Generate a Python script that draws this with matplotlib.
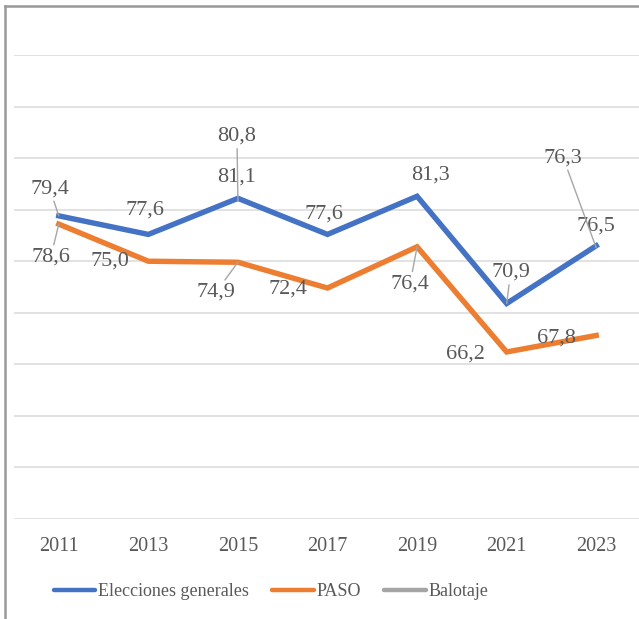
import numpy as np
import matplotlib.pyplot as plt
from matplotlib.lines import Line2D

years = ["2011", "2013", "2015", "2017", "2019", "2021", "2023"]
generales = [79.4, 77.6, 81.1, 77.6, 81.3, 70.9, 76.5]
paso = [78.6, 75.0, 74.9, 72.4, 76.4, 66.2, 67.8]
balotaje = [np.nan, np.nan, 80.8, np.nan, np.nan, np.nan, 76.3]

# label offsets in pixels (dx, dy) and whether a leader line is drawn
gen_off = [(-9, 27, True), (-3, 24, False), (-1, 21, False), (-4, 20, False),
           (13, 21, False), (4, 31, True), (0, 20, False)]
paso_off = [(-8, -33, True), (-38, 0, False), (-22, -30, True), (-40, -1, False),
            (-7, -37, True), (-41, -2, False), (-40, -3, False)]
bal_off = {2: (-1, 65, True), 6: (-33, 90, True)}

BLUE = "#4472C4"
ORANGE = "#ED7D31"
GRAY = "#A5A5A5"
TXT = "#595959"

plt.rcParams['font.family'] = ['Liberation Serif', 'DejaVu Serif']

fig = plt.figure(figsize=(6.39, 6.19), dpi=100)
ax = fig.add_axes([14 / 639, 100 / 619, 627 / 639, 464 / 619])
x = np.arange(len(years))

ax.plot(x, generales, color=BLUE, lw=3.9, solid_joinstyle='miter', zorder=3)
ax.plot(x, paso, color=ORANGE, lw=3.9, solid_joinstyle='miter', zorder=3)
ax.plot(x, balotaje, color=GRAY, lw=3.9, zorder=3)

ax.set_xlim(-0.5, len(years) - 0.5)
ax.set_ylim(50, 95)
ax.set_yticks(np.arange(50, 96, 5))
ax.yaxis.grid(True, color="#DDDDDD", lw=1.2)
ax.set_axisbelow(True)
ax.tick_params(axis='y', left=False, labelleft=False)
ax.tick_params(axis='x', length=0, pad=13, labelsize=14.5, labelcolor=TXT)
ax.set_xticks(x)
ax.set_xticklabels(years)
for s in ax.spines.values():
    s.set_visible(False)


def label(i, v, off):
    dx, dy, leader = off
    txt = f"{v:.1f}".replace(".", ",")
    props = None
    if leader:
        props = dict(arrowstyle='-', color="#A6A6A6", lw=1, shrinkA=0, shrinkB=0)
    ax.annotate(txt, xy=(i, v), xytext=(dx, dy), textcoords='offset pixels',
                ha='center', va='center', fontsize=16, color=TXT,
                arrowprops=props, zorder=4)


for i, v in enumerate(generales):
    label(i, v, gen_off[i])
for i, v in enumerate(paso):
    label(i, v, paso_off[i])
for i, off in bal_off.items():
    label(i, balotaje[i], off)

# outer frame (top and left edges visible)
fig.add_artist(Line2D([5 / 639, 1], [1 - 6 / 619, 1 - 6 / 619], color="#999999", lw=1.8,
                      transform=fig.transFigure))
fig.add_artist(Line2D([5 / 639, 5 / 639], [0, 1 - 6 / 619], color="#999999", lw=1.8,
                      transform=fig.transFigure))

handles = [Line2D([], [], color=c, lw=3.2, solid_capstyle='round') for c in (BLUE, ORANGE, GRAY)]
fig.legend(handles, ["Elecciones generales", "PASO", "Balotaje"], loc='center',
           bbox_to_anchor=(271 / 639, 1 - 592 / 619), ncol=3, frameon=False,
           fontsize=13, labelcolor=TXT, handlelength=2.3, handletextpad=0.15,
           columnspacing=1.3)

fig.savefig("out.png", dpi=100)
